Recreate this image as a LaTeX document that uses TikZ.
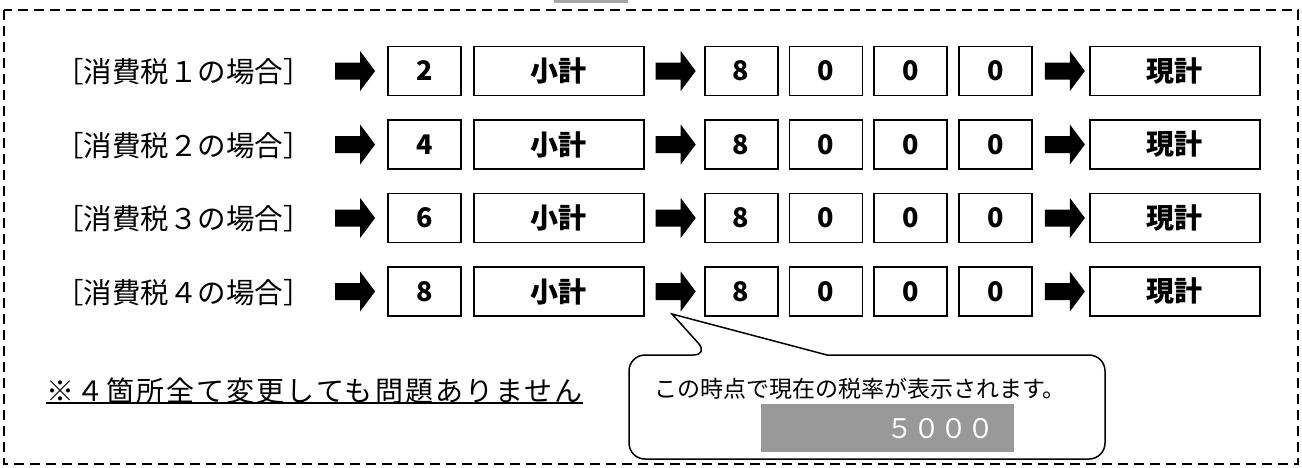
\documentclass[tikz,border=0pt]{standalone}
\usepackage{fontspec}
\newfontfamily\gothic{Noto Sans CJK JP}
\usetikzlibrary{positioning}
\definecolor{displaygray}{HTML}{999999}
\definecolor{tabgray}{HTML}{A6A6A6}

\tikzset{
  keybox/.style={draw, line width=1.8pt, minimum height=49pt, inner sep=0pt},
  digitkey/.style={keybox, minimum width=73pt, font=\gothic\bfseries\fontsize{27}{27}\selectfont},
  widekey/.style={keybox, minimum width=170pt, font=\gothic\bfseries\fontsize{28}{28}\selectfont},
  caselabel/.style={anchor=west, inner sep=0pt, font=\gothic\fontsize{28.5}{28.5}\selectfont},
  blockarrow/.pic={\fill (0,-8.5) -- (25,-8.5) -- (25,-20) -- (40,0) -- (25,20) -- (25,8.5) -- (0,8.5) -- cycle;}
}

\begin{document}
\begin{tikzpicture}[x=1pt,y=-1pt]
        \useasboundingbox (0,0) rectangle (1302,467);
        %% Frame
        \fill[tabgray] (554,0) rectangle (628,3);
        \draw[line width=1.3pt, dash pattern=on 10pt off 6pt] (4,10) rectangle (1298,464);
        %% Key rows
        \foreach \r/\lab/\num in {1/１/2, 2/２/4, 3/３/6, 4/４/8} {
            \node[caselabel] (lab\r) at (55,{72+73.5*(\r-1)}) {［消費税\lab{}の場合］};
            \node[digitkey] (num\r) at (424.5,{71+73.5*(\r-1)}) {\num};
            \node[widekey, right=11pt of num\r] (sub\r) {小計};
            \node[digitkey, right=59pt of sub\r] (da\r) {8};
            \node[digitkey, right=10pt of da\r] (db\r) {0};
            \node[digitkey, right=10pt of db\r] (dc\r) {0};
            \node[digitkey, right=10pt of dc\r] (dd\r) {0};
            \node[widekey, right=56pt of dd\r] (tot\r) {現計};
            \path (num\r.west) ++(-52,0) pic {blockarrow};
            \path (sub\r.east) ++(11,0) pic {blockarrow};
            \path (dd\r.east) ++(12,0) pic {blockarrow};
        }
        %% Note
        \node[anchor=west, inner sep=0pt, font=\gothic\fontsize{28}{28}\selectfont\addfontfeature{LetterSpace=7.5}] (caution) at (46,391) {※４箇所全て変更しても問題ありません};
        \draw[line width=1.5pt] ([yshift=1pt]caution.south west) -- ([yshift=1pt]caution.south east);
        %% Callout
        \coordinate (tip) at (672,314);
        \draw[line width=1.5pt, fill=white] (827,355) [rounded corners=16pt] -- (1105,355) -- (1105,459) -- (629,459) -- (629,355) -- (709,355) [sharp corners] -- (tip) -- cycle;
        \node[font=\gothic\fontsize{23}{23}\selectfont] (msg) at (860,389) {この時点で現在の税率が表示されます。};
        \node[fill=displaygray, minimum width=253pt, minimum height=48pt, inner sep=0pt, anchor=north west] (rate) at (761,404) {};
        \node[anchor=east, text=white, font=\gothic\fontsize{27}{27}\selectfont] at ([xshift=-16pt]rate.east) {５０００};
\end{tikzpicture}
\end{document}
